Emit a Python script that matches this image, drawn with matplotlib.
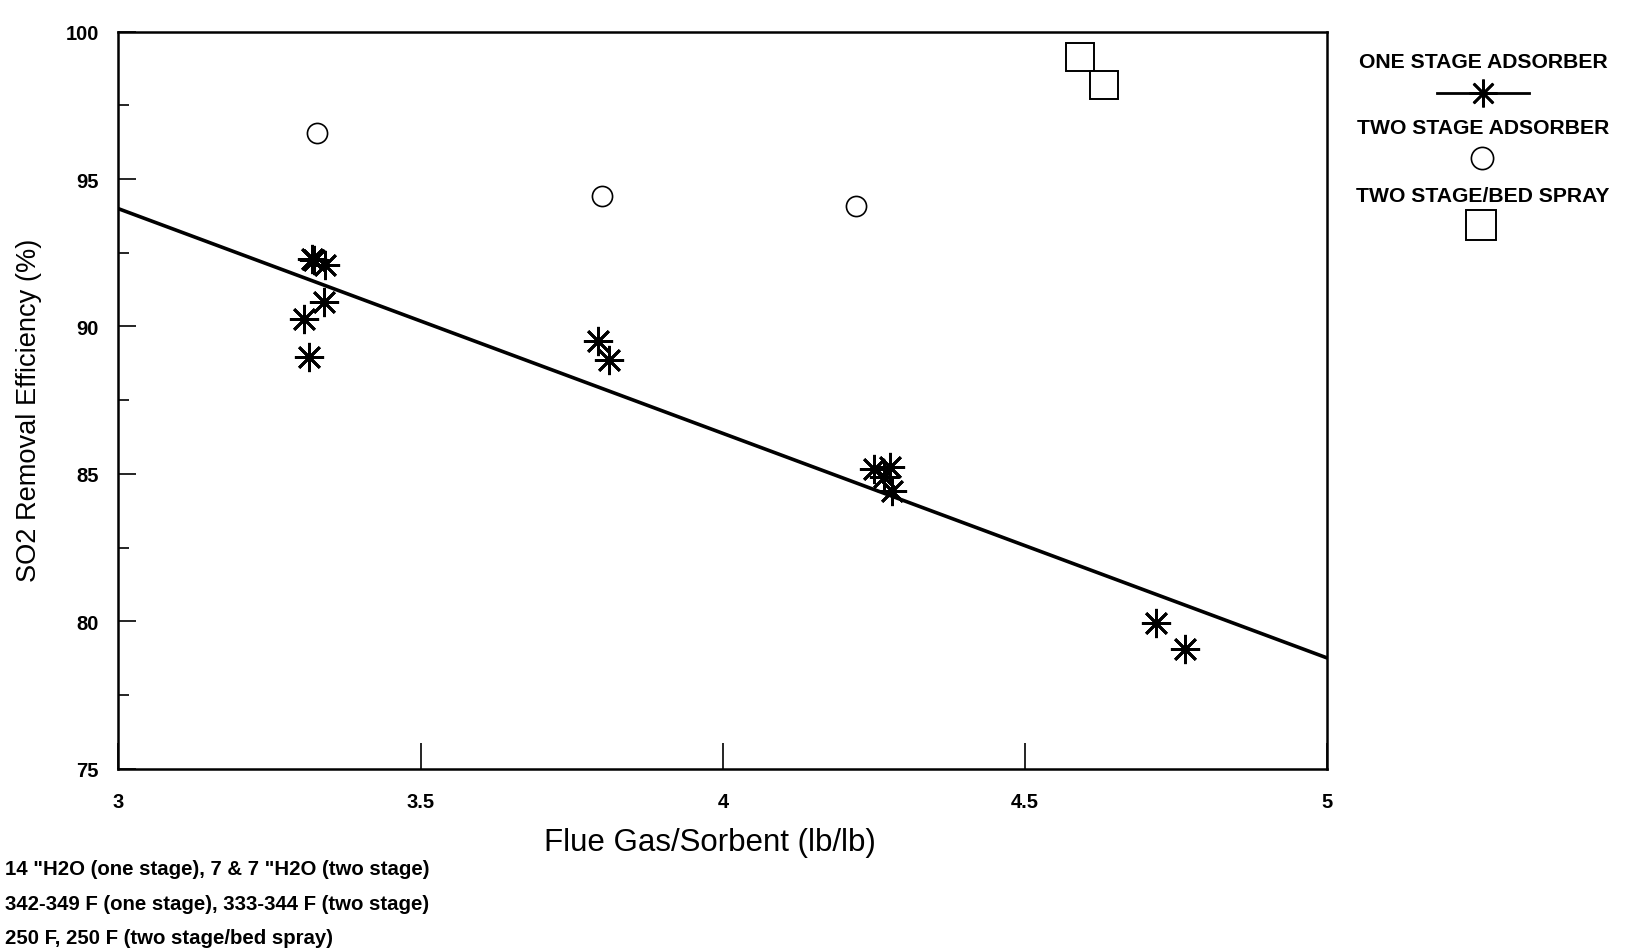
import numpy as np
import matplotlib
matplotlib.use("Agg")
import matplotlib.pyplot as plt
from matplotlib.ticker import MultipleLocator

FONT = ["Liberation Sans", "DejaVu Sans"]

# One stage adsorber runs
one_x = [3.320, 3.323, 3.342, 3.340, 3.308, 3.315, 3.793, 3.811,
         4.250, 4.276, 4.267, 4.279, 4.716, 4.764]
one_y = [92.29, 92.24, 92.08, 90.83, 90.25, 88.95, 89.51, 88.87,
         85.17, 85.22, 84.88, 84.41, 79.95, 79.04]

# Two stage adsorber runs
two_x = [3.329, 3.800, 4.220]
two_y = [96.58, 94.42, 94.08]

# Two stage with bed spray
spray_x = [4.591, 4.630]
spray_y = [99.16, 98.19]

x_ticks = [3, 3.5, 4, 4.5, 5]
x_tick_labels = ["3", "3.5", "4", "4.5", "5"]
y_ticks = [75, 80, 85, 90, 95, 100]

notes = [
    '14 "H2O (one stage), 7 & 7 "H2O (two stage)',
    "342-349 F (one stage), 333-344 F (two stage)",
    "250 F, 250 F (two stage/bed spray)",
]
legend_labels = ["ONE STAGE ADSORBER", "TWO STAGE ADSORBER", "TWO STAGE/BED SPRAY"]

STAR = (8, 2, 0)

fig = plt.figure(figsize=(16.33, 9.53), dpi=100)
ax = fig.add_axes([0.0724, 0.1925, 0.7405, 0.7731])

# least-squares line through the one stage data
slope, intercept = np.polyfit(one_x, one_y, 1)
fit_x = np.array([3.0, 5.0])
ax.plot(fit_x, intercept + slope * fit_x, color="black", lw=2.6, zorder=2)

ax.plot(one_x, one_y, ls="none", marker=STAR, ms=21, mew=2.0,
        mec="black", zorder=3)
ax.plot(two_x, two_y, ls="none", marker="o", ms=14.5, mew=1.2,
        mfc="white", mec="black", zorder=3)
ax.plot(spray_x, spray_y, ls="none", marker="s", ms=19.5, mew=1.4,
        mfc="white", mec="black", zorder=3)

ax.set_xlim(3, 5)
ax.set_ylim(75, 100)
ax.set_xticks(x_ticks)
ax.set_xticklabels(x_tick_labels)
ax.set_yticks(y_ticks)
ax.yaxis.set_minor_locator(MultipleLocator(2.5))

ax.tick_params(axis="x", direction="in", length=19, width=1.2, pad=17)
ax.tick_params(axis="y", which="major", direction="in", length=13,
               width=1.2, pad=14)
ax.tick_params(axis="y", which="minor", direction="in", length=8, width=1.2)
for lab in ax.get_xticklabels() + ax.get_yticklabels():
    lab.set_family(FONT)
    lab.set_fontweight("bold")
    lab.set_fontsize(14.5)

for sp in ax.spines.values():
    sp.set_linewidth(1.8)

ax.set_xlabel("Flue Gas/Sorbent (lb/lb)", family=FONT, fontsize=22.5)
ax.xaxis.set_label_coords(0.489, -0.100)
ax.xaxis.label.set_va("center")
ax.set_ylabel("SO2 Removal Efficiency (%)", family=FONT, fontsize=19.6)
ax.yaxis.set_label_coords(-0.074, 0.487)
ax.yaxis.label.set_va("center")

# legend drawn in pixel space to the right of the plot
W, H = 1633, 953
lg = fig.add_axes([0, 0, 1, 1], facecolor="none")
lg.set_xlim(0, W)
lg.set_ylim(H, 0)
lg.axis("off")

legend_text_y = [63, 129, 196]
for label, ty in zip(legend_labels, legend_text_y):
    lg.text(1483, ty, label, ha="center", va="center", family=FONT,
            fontweight="bold", fontsize=15.2)
lg.plot([1437, 1529], [94, 94], color="black", lw=2.0)
lg.plot([1483], [94], marker=STAR, ms=20, mew=1.9, mec="black")
lg.plot([1482], [159], marker="o", ms=16, mew=1.2, mfc="white", mec="black")
lg.plot([1481], [226], marker="s", ms=21, mew=1.4, mfc="white", mec="black")

for i, line in enumerate(notes):
    fig.text(0.003, 1 - (870 + 34.5 * i) / H, line, ha="left", va="center",
             family=FONT, fontweight="bold", fontsize=14.7)

fig.savefig("out.png", dpi=100, facecolor="white")
